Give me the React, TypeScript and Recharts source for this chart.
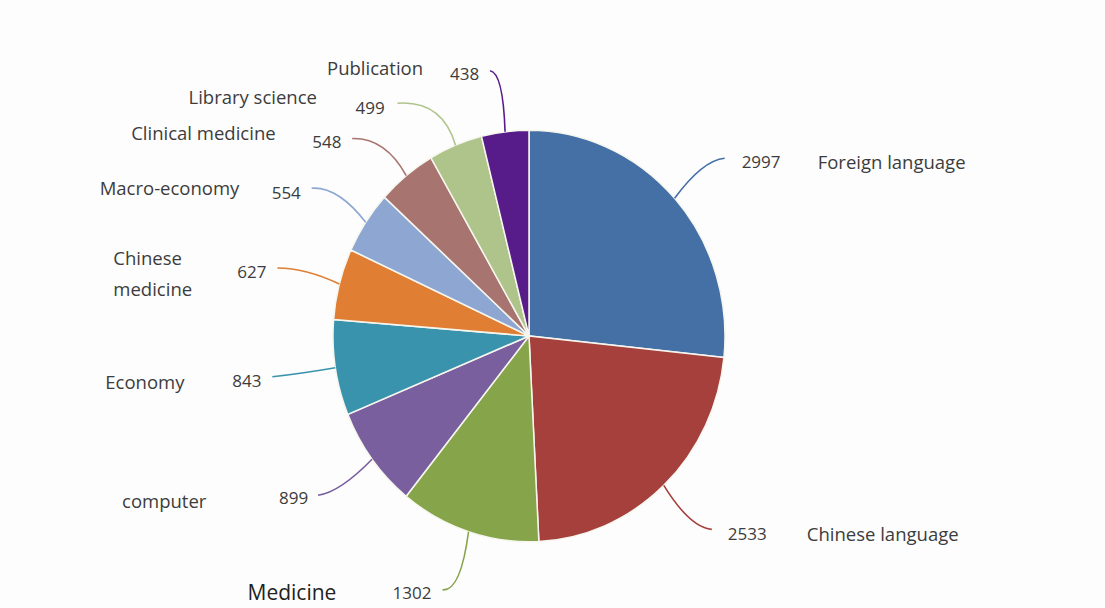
import { PieChart, Pie, Cell } from 'recharts';

const categories = [
  'Foreign language',
  'Chinese language',
  'Medicine',
  'computer',
  'Economy',
  'Chinese medicine',
  'Macro-economy',
  'Clinical medicine',
  'Library science',
  'Publication',
];
const counts = [2997, 2533, 1302, 899, 843, 627, 554, 548, 499, 438];
const colors = [
  '#4470A6',
  '#A5403D',
  '#86A44A',
  '#7A5F9E',
  '#3A93AD',
  '#E07E33',
  '#8EA6D2',
  '#A87470',
  '#AEC48A',
  '#581C8A',
];

// leader line end / control offsets from the slice edge, text offsets from the leader end
const labelLayout = [
  { end: [50, -40], ctrl: [28, -38], value: [17, 3], name: [93, 3] },
  { end: [48, 44], ctrl: [26, 42], value: [16, 4], name: [95, 4] },
  { end: [-26, 58], ctrl: [-8, 60], value: [-50, 3], name: [-195, 2], big: true },
  { end: [-54, 36], ctrl: [-32, 33], value: [-39, 2], name: [-196, 5] },
  { end: [-63, 9], ctrl: [-35, 6], value: [-40, 4], name: [-167, 5] },
  { end: [-62, -16], ctrl: [-34, -16], value: [-40, 4], name: [-164, -11], wrap: true },
  { end: [-54, -34], ctrl: [-28, -36], value: [-40, 4], name: [-212, -1] },
  { end: [-54, -37], ctrl: [-21, -38], value: [-40, 3], name: [-221, -6] },
  { end: [-58, -42], ctrl: [-13, -45], value: [-42, 4], name: [-209, -7] },
  { end: [-15, -61], ctrl: [-2, -59], value: [-40, 3], name: [-163, -3] },
];

const data = categories.map((name, i) => ({ name, value: counts[i] }));

const RADIAN = Math.PI / 180;
const Y_STRETCH = 1.05;
const CX = 529;
const CY = 336;
const FONT = '"Open Sans", Lato, sans-serif';

const renderLabel = (props: any) => {
  const { cx, cy, midAngle, outerRadius, index, value } = props;
  const lay = labelLayout[index];
  const sx = cx + outerRadius * Math.cos(-midAngle * RADIAN);
  const sy = cy + outerRadius * Y_STRETCH * Math.sin(-midAngle * RADIAN);
  const ex = sx + lay.end[0];
  const ey = sy + lay.end[1];
  const qx = sx + lay.ctrl[0];
  const qy = sy + lay.ctrl[1];
  const name = categories[index];
  const fontSize = lay.big ? 21 : 18.5;
  return (
    <g key={`lbl-${index}`}>
      <path
        d={`M${sx},${sy} Q${qx},${qy} ${ex},${ey}`}
        stroke={colors[index]}
        strokeWidth={1.6}
        fill="none"
      />
      <text
        x={ex + lay.value[0]}
        y={ey + lay.value[1]}
        dominantBaseline="central"
        fontSize={17}
        fontFamily={FONT}
        fill="#3c3c3c"
      >
        {value}
      </text>
      {lay.wrap ? (
        <text
          x={ex + lay.name[0]}
          y={ey + lay.name[1]}
          dominantBaseline="central"
          fontSize={fontSize}
          fontFamily={FONT}
          fill="#3c3c3c"
        >
          <tspan x={ex + lay.name[0]} dy={0}>{name.split(' ')[0]}</tspan>
          <tspan x={ex + lay.name[0]} dy={31}>{name.split(' ')[1]}</tspan>
        </text>
      ) : (
        <text
          x={ex + lay.name[0]}
          y={ey + lay.name[1]}
          dominantBaseline="central"
          fontSize={fontSize}
          fontFamily={FONT}
          fill={lay.big ? '#222' : '#3c3c3c'}
        >
          {name}
        </text>
      )}
    </g>
  );
};

export default function App() {
  return (
    <div style={{ position: 'absolute', left: 0, top: 0, width: 1105, height: 608, background: '#fdfdfd' }}>
      <style>{`
        .recharts-pie-sector {
          transform: scaleY(${Y_STRETCH});
          transform-origin: ${CX}px ${CY}px;
        }
      `}</style>
      <PieChart width={1105} height={608} margin={{ top: 0, right: 0, bottom: 0, left: 0 }}>
        <Pie
          data={data}
          dataKey="value"
          nameKey="name"
          cx={CX}
          cy={CY}
          outerRadius={196}
          startAngle={90}
          endAngle={-270}
          stroke="#f6f6ee"
          strokeWidth={1.5}
          label={renderLabel}
          labelLine={false}
          isAnimationActive={false}
        >
          {data.map((d, i) => (
            <Cell key={d.name} fill={colors[i]} />
          ))}
        </Pie>
      </PieChart>
    </div>
  );
}
